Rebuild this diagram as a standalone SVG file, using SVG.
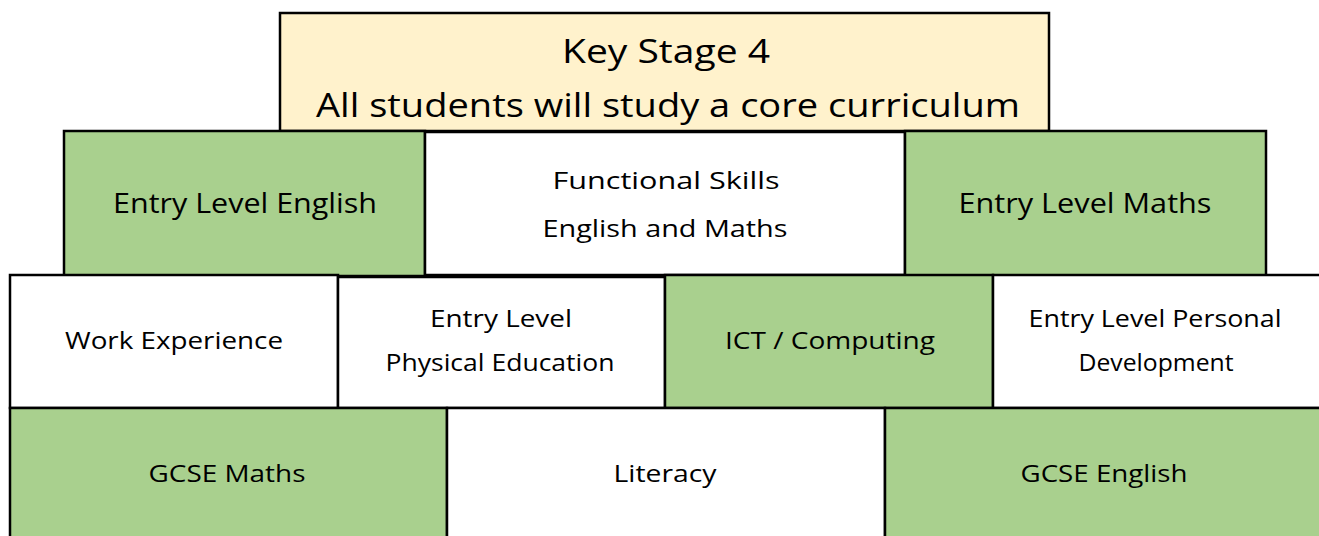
<svg xmlns="http://www.w3.org/2000/svg" width="1319" height="536" viewBox="0 0 1319 536">
<style>
.box{stroke:#000;stroke-width:2.5}
.g{fill:#A9D08E}
.w{fill:#FFFFFF}
.y{fill:#FFF2CC}
text{font-family:"Open Sans","Noto Sans",sans-serif;fill:#000;text-anchor:middle}
.t1{font-size:33px}
.t2{font-size:27px}
.t3{font-size:24px}
</style>
<rect width="1319" height="536" fill="#fff"/>
<g id="key-stage-4">
<rect class="box y" x="280" y="13" width="769" height="118"/>
<text class="t1" x="666" y="63" textLength="208" lengthAdjust="spacingAndGlyphs">Key Stage 4</text>
<text class="t1" x="668" y="117" textLength="704" lengthAdjust="spacingAndGlyphs">All students will study a core curriculum</text>
</g>
<g id="entry-level-english">
<rect class="box g" x="64" y="131" width="361" height="145"/>
<text class="t2" x="245" y="213" textLength="264" lengthAdjust="spacingAndGlyphs">Entry Level English</text>
</g>
<g id="functional-skills">
<rect class="box w" x="425" y="132" width="480" height="143"/>
<text class="t3" x="666" y="189" textLength="227" lengthAdjust="spacingAndGlyphs">Functional Skills</text>
<text class="t3" x="665" y="237" textLength="245" lengthAdjust="spacingAndGlyphs">English and Maths</text>
</g>
<g id="entry-level-maths">
<rect class="box g" x="905" y="131" width="361" height="145"/>
<text class="t2" x="1085" y="213" textLength="253" lengthAdjust="spacingAndGlyphs">Entry Level Maths</text>
</g>
<g id="work-experience">
<rect class="box w" x="10" y="275" width="328" height="133"/>
<text class="t3" x="174" y="349" textLength="218" lengthAdjust="spacingAndGlyphs">Work Experience</text>
</g>
<g id="entry-level-pe">
<rect class="box w" x="338" y="277" width="327" height="131"/>
<text class="t3" x="501" y="327" textLength="142" lengthAdjust="spacingAndGlyphs">Entry Level</text>
<text class="t3" x="500" y="371" textLength="229" lengthAdjust="spacingAndGlyphs">Physical Education</text>
</g>
<g id="ict-computing">
<rect class="box g" x="665" y="275" width="328" height="133"/>
<text class="t3" x="830" y="349" textLength="210" lengthAdjust="spacingAndGlyphs">ICT / Computing</text>
</g>
<g id="entry-level-pd">
<rect class="box w" x="993" y="275" width="340" height="133"/>
<text class="t3" x="1155" y="327" textLength="253" lengthAdjust="spacingAndGlyphs">Entry Level Personal</text>
<text class="t3" x="1156" y="371" textLength="155" lengthAdjust="spacingAndGlyphs">Development</text>
</g>
<g id="gcse-maths">
<rect class="box g" x="10" y="408" width="437" height="140"/>
<text class="t3" x="227" y="482" textLength="157" lengthAdjust="spacingAndGlyphs">GCSE Maths</text>
</g>
<g id="literacy">
<rect class="box w" x="447" y="408" width="438" height="140"/>
<text class="t3" x="665" y="482" textLength="103" lengthAdjust="spacingAndGlyphs">Literacy</text>
</g>
<g id="gcse-english">
<rect class="box g" x="885" y="408" width="450" height="140"/>
<text class="t3" x="1104" y="482" textLength="167" lengthAdjust="spacingAndGlyphs">GCSE English</text>
</g>
<g id="connectors"></g>
</svg>
